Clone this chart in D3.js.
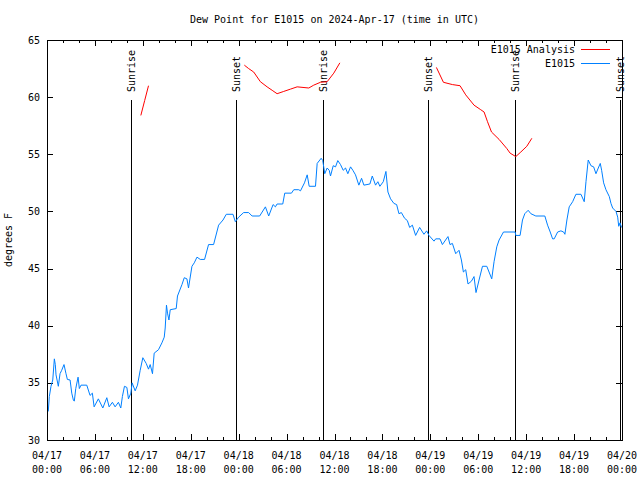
<!DOCTYPE html>
<html><head><meta charset="utf-8">
<script src="https://cdn.jsdelivr.net/npm/d3@7"></script>
<style>body{margin:0;background:#fff}svg{display:block}</style>
</head><body><svg id="c" width="640" height="480"></svg>
<script>
// ---- data ----
const title = "Dew Point for E1015 on 2024-Apr-17 (time in UTC)";
const yLabel = "degrees F";
const seriesNames = ["E1015 Analysis", "E1015"];
const yTicks = [30, 35, 40, 45, 50, 55, 60, 65];
const xTickHours = [0, 6, 12, 18, 24, 30, 36, 42, 48, 54, 60, 66, 72];
const sunHours = [10.57, 23.62, 34.53, 47.7, 58.62, 71.75];
const sunLabels = ["Sunrise", "Sunset", "Sunrise", "Sunset", "Sunrise", "Sunset"];

// observed (hours since 2024-04-17 00:00 UTC)
const obsHours = [0.16,0.29,0.5,0.72,0.92,1.04,1.13,1.42,1.63,1.84,2.13,2.38,2.55,2.89,3.10,3.30,3.42,3.60,3.89,4.05,4.26,4.98,5.39,5.68,5.90,6.43,6.99,7.49,7.78,8.19,8.53,8.94,9.24,9.44,9.70,10.0,10.2,10.5,10.66,11.04,11.33,11.67,12.0,12.42,12.71,12.92,13.21,13.42,13.96,14.39,14.68,14.8,14.96,15.09,15.27,15.43,16.18,16.34,16.9,17.19,17.52,17.72,18.15,18.44,18.78,19.19,19.73,20.23,20.86,21.49,22.04,22.45,23.29,23.58,24.0,24.62,25.25,25.68,26.63,27.35,27.76,28.31,28.6,28.81,29.52,29.77,30.61,30.9,31.52,31.74,32.24,32.58,32.83,33.62,33.83,34.33,34.53,34.78,35.08,35.34,35.5,35.84,36.13,36.41,36.75,37.09,37.38,37.67,38.01,38.3,38.63,39.05,39.39,39.68,40.43,40.73,41.14,41.43,41.68,42.11,42.44,42.69,43.02,43.44,43.78,44.07,44.37,44.78,45.12,45.41,45.75,46.16,46.66,47.2,47.54,47.83,48.46,48.67,49.21,49.51,50.21,50.46,50.76,51.18,51.59,51.89,52.14,52.43,52.72,53.15,53.47,53.72,54.1,54.53,55.07,55.69,55.98,56.32,56.61,57.16,58.62,58.7,59.24,59.54,59.83,60.25,60.59,61.21,62.34,62.68,63.01,63.31,63.51,63.94,64.35,64.69,64.85,65.1,65.39,65.82,66.23,66.86,67.27,67.49,67.77,68.11,68.45,68.74,69.03,69.28,69.45,69.7,69.99,70.41,70.62,70.83,71.25,71.46,71.59,71.75,71.94];
const obsValues = [32.5,33.8,34.7,35.25,37.1,36.6,35.7,34.7,35.8,36.1,36.6,35.8,35.3,35.25,34.1,33.5,33.4,34.5,35.5,34.5,34.8,34.8,33.9,34.1,32.9,33.6,32.8,33.7,32.9,33.3,32.9,33.3,32.8,33.8,34.7,34.6,33.6,34.1,35.0,34.3,34.8,36.1,37.2,36.7,36.2,36.6,35.8,37.6,37.9,38.5,39.0,39.8,41.8,41.1,40.5,41.4,41.5,42.6,43.6,44.2,44.1,43.3,45.2,45.5,46.0,45.8,45.8,47.1,47.1,48.8,49.25,49.75,49.75,49.1,49.5,49.9,49.9,49.6,49.6,50.4,49.6,50.6,50.4,50.65,50.65,51.6,51.6,51.9,51.9,51.8,52.5,53.2,52.2,52.2,54.2,54.65,54.45,53.3,53.8,53.6,53.1,54.0,53.9,54.45,54.1,53.6,53.8,53.3,53.9,53.6,53.2,52.3,52.9,52.3,52.4,53.1,52.3,52.6,52.2,52.6,53.5,51.7,51.1,50.7,50.6,49.8,49.9,49.4,49.2,48.6,48.8,47.9,48.6,48.0,48.3,47.9,47.4,47.6,47.6,47.1,47.8,47.1,47.2,46.3,46.6,45.75,44.7,44.9,43.65,43.9,44.3,42.9,44.0,45.2,45.2,44.1,45.6,46.9,47.5,48.2,48.2,47.9,47.9,49.25,49.8,50.1,49.8,49.6,49.6,48.8,48.2,47.6,47.6,48.2,48.3,48.2,48.0,49.25,50.4,50.85,51.5,51.5,50.85,52.6,54.5,54.0,53.9,53.3,53.8,54.2,53.6,52.5,51.9,51.3,50.7,50.3,50.0,49.5,48.7,49.0,48.6];

// analysis (null = gap)
const anaHours = [11.75,12.23,12.71,null,24.71,25.25,25.88,26.72,27.56,28.19,28.81,29.64,30.48,31.32,32.78,33.4,34.24,35.08,35.91,36.67,null,48.76,49.64,50.76,51.72,52.43,53.47,54.31,54.73,55.16,55.66,56.61,57.58,57.99,58.7,59.33,60.08,60.71];
const anaValues = [58.4,59.7,61.0,null,62.8,62.5,62.2,61.35,60.9,60.6,60.3,60.5,60.7,60.9,60.8,61.05,61.3,61.35,62.1,63.0,null,62.6,61.3,61.1,61.0,60.2,59.3,58.9,58.7,57.85,56.95,56.3,55.5,55.1,54.8,55.2,55.7,56.4];

// ---- drawing ----
const FONT = "DejaVu Sans Mono, monospace";
const FS = 10;
const colAna = "#ff0000", colObs = "#0080ff";
const L = 47, R = 622, T = 40, B = 440;
const t0 = Date.UTC(2024, 3, 17);
const hToDate = h => new Date(t0 + h * 3600e3);

const svg = d3.select("#c");
const x = d3.scaleUtc().domain([hToDate(0), hToDate(72)]).range([L, R]);
const y = d3.scaleLinear().domain([30, 65]).range([B, T]);

const g = svg.append("g").attr("font-family", FONT).attr("font-size", FS);

// ticks (inward, mirrored)
const tk = g.append("g").attr("stroke", "#000").attr("shape-rendering", "crispEdges");
const minorH = d3.range(0, 73, 2).filter(h => h % 6 !== 0);
xTickHours.forEach(h => {
  const px = Math.round(x(hToDate(h))) + 0.5;
  tk.append("line").attr("x1", px).attr("x2", px).attr("y1", B).attr("y2", B - 6);
  tk.append("line").attr("x1", px).attr("x2", px).attr("y1", T).attr("y2", T + 6);
});
minorH.forEach(h => {
  const px = Math.round(x(hToDate(h))) + 0.5;
  tk.append("line").attr("x1", px).attr("x2", px).attr("y1", B).attr("y2", B - 3);
  tk.append("line").attr("x1", px).attr("x2", px).attr("y1", T).attr("y2", T + 3);
});
yTicks.forEach(v => {
  const py = Math.round(y(v)) + 0.5;
  tk.append("line").attr("x1", L).attr("x2", L + 6).attr("y1", py).attr("y2", py);
  tk.append("line").attr("x1", R).attr("x2", R - 6).attr("y1", py).attr("y2", py);
});

// tick labels
const fmtD = d3.utcFormat("%m/%d"), fmtT = d3.utcFormat("%H:%M");
xTickHours.forEach(h => {
  const d = hToDate(h), px = x(d);
  g.append("text").attr("x", px).attr("y", 459).attr("text-anchor", "middle").text(fmtD(d));
  g.append("text").attr("x", px).attr("y", 473).attr("text-anchor", "middle").text(fmtT(d));
});
yTicks.forEach(v => {
  g.append("text").attr("x", 40).attr("y", y(v)).attr("dy", "0.35em").attr("text-anchor", "end").text(v);
});

// title and axis label
g.append("text").attr("x", (L + R) / 2).attr("y", 23).attr("text-anchor", "middle").text(title);
g.append("text").attr("transform", `translate(12,${(T + B) / 2}) rotate(-90)`).attr("text-anchor", "middle").text(yLabel);

// sun lines
sunHours.forEach((h, i) => {
  const px = Math.round(x(hToDate(h))) + 0.5;
  g.append("line").attr("x1", px).attr("x2", px).attr("y1", y.range()[0]).attr("y2", B - 0.85 * (B - T))
    .attr("stroke", "#000").attr("shape-rendering", "crispEdges");
  g.append("text").attr("transform", `translate(${px},${B - 0.87 * (B - T)}) rotate(-90)`)
    .attr("text-anchor", "start").attr("dy", "0.35em").text(sunLabels[i]);
});

// series
const obs = obsHours.map((h, i) => ({ d: hToDate(h), v: obsValues[i] }));
const ana = anaHours.map((h, i) => ({ d: h == null ? null : hToDate(h), v: anaValues[i] }));
const line = d3.line().defined(p => p.v != null && p.d != null).x(p => x(p.d)).y(p => y(p.v));
g.append("path").datum(ana).attr("d", line).attr("fill", "none").attr("stroke", colAna).attr("stroke-width", 1);
g.append("path").datum(obs).attr("d", line).attr("fill", "none").attr("stroke", colObs).attr("stroke-width", 1);

// legend
const legCols = [colAna, colObs];
seriesNames.forEach((n, i) => {
  const ly = 49 + i * 14;
  g.append("text").attr("x", 575).attr("y", ly).attr("dy", "0.35em").attr("text-anchor", "end").text(n);
  g.append("line").attr("x1", 581).attr("x2", 610).attr("y1", ly + 0.5).attr("y2", ly + 0.5)
    .attr("stroke", legCols[i]).attr("stroke-width", 1);
});

// border
g.append("rect").attr("x", L + 0.5).attr("y", T + 0.5).attr("width", R - L).attr("height", B - T)
  .attr("fill", "none").attr("stroke", "#000").attr("shape-rendering", "crispEdges");
</script></body></html>
